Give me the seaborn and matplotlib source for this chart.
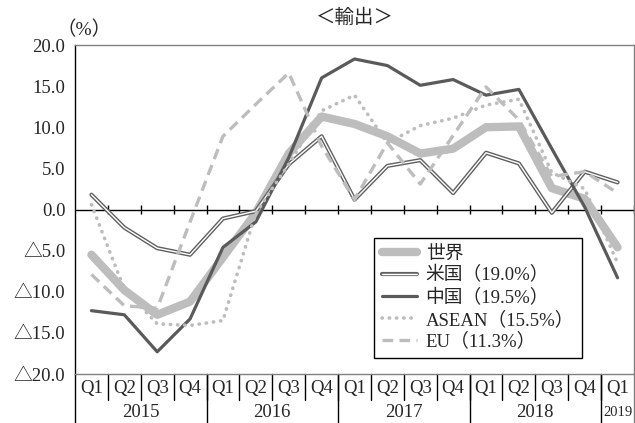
import matplotlib
matplotlib.use("Agg")
import matplotlib.pyplot as plt
import matplotlib.patheffects as pe
import matplotlib.transforms as mtransforms
import numpy as np
import pandas as pd
import seaborn as sns

# Quarterly export growth (year-on-year, %)
quarters = ["Q1", "Q2", "Q3", "Q4"] * 4 + ["Q1"]
years = ["2015", "2016", "2017", "2018", "2019"]
year_sizes = [4, 4, 4, 4, 1]

world = [-5.5, -9.8, -12.8, -11.2, -5.8, -0.4, 6.8, 11.3, 10.4, 8.9, 6.8, 7.4, 10.0, 10.1, 2.6, 1.3, -4.6]
us = [1.8, -2.2, -4.7, -5.5, -1.1, -0.2, 5.5, 8.9, 1.2, 5.3, 6.0, 2.0, 6.9, 5.6, -0.4, 4.6, 3.3]
china = [-12.3, -12.8, -17.3, -13.3, -4.6, -1.5, 6.3, 16.0, 18.3, 17.5, 15.1, 15.8, 13.9, 14.6, 7.4, 0.3, -8.3]
asean = [0.6, -9.7, -13.9, -14.1, -13.5, -0.4, 5.5, 12.0, 13.9, 8.1, 10.2, 11.1, 12.7, 13.4, 4.5, 2.5, -6.5]
eu = [-7.9, -11.7, -12.0, -1.5, 8.9, 12.8, 16.6, 7.7, 1.2, 8.1, 3.1, 9.0, 14.9, 10.9, 4.0, 4.6, 2.0]

labels = ["世界", "米国（19.0%）", "中国（19.5%）", "ASEAN（15.5%）", "EU（11.3%）"]
yticks = [20, 15, 10, 5, 0, -5, -10, -15, -20]
ytick_labels = ["20.0", "15.0", "10.0", "5.0", "0.0", "△5.0", "△10.0", "△15.0", "△20.0"]

sns.set_style("white")
plt.rcParams["font.family"] = ["Liberation Serif", "Noto Sans CJK JP", "DejaVu Sans"]
plt.rcParams["font.size"] = 13

df = pd.DataFrame({"idx": np.arange(len(quarters)), "world": world, "us": us,
                   "china": china, "asean": asean, "eu": eu})

fig = plt.figure(figsize=(6.35, 4.23), dpi=100)
ax = fig.add_axes([75 / 635, 1 - 374 / 423, 559 / 635, 329 / 423])

light = "#bdbdbd"
dark = "#5a5a5a"

sns.lineplot(data=df, x="idx", y="world", ax=ax, color=light, lw=6,
             solid_capstyle="round", label=labels[0], zorder=3)
sns.lineplot(data=df, x="idx", y="us", ax=ax, color="white", lw=1.0,
             label=labels[1], zorder=4,
             path_effects=[pe.Stroke(linewidth=3.0, foreground="#606060"), pe.Normal()])
sns.lineplot(data=df, x="idx", y="china", ax=ax, color=dark, lw=2.3,
             label=labels[2], zorder=5)
sns.lineplot(data=df, x="idx", y="asean", ax=ax, color=light, lw=2.6,
             linestyle=(0, (0.1, 1.9)), dash_capstyle="round",
             label=labels[3], zorder=6)
sns.lineplot(data=df, x="idx", y="eu", ax=ax, color=light, lw=2.4,
             linestyle=(0, (3.2, 1.9)), label=labels[4], zorder=6)

n = len(quarters)
ax.set_xlim(-0.5, n - 0.5)
ax.set_ylim(-20, 20)
ax.set_xlabel("")
ax.set_ylabel("")

# Frame
for side in ["top", "right", "bottom"]:
    ax.spines[side].set_color("#808080")
    ax.spines[side].set_linewidth(1.0)
ax.spines["left"].set_color("black")
ax.spines["left"].set_linewidth(1.0)

# Value axis
ax.set_yticks(yticks)
ax.set_yticklabels(ytick_labels, fontsize=13.5)
ax.tick_params(axis="y", direction="inout", length=8, width=1, color="black", pad=3)
ax.set_xticks([])

# Zero line with category ticks
ax.axhline(0, color="black", lw=1.0, zorder=2)
bounds = np.arange(0.5, n - 0.5, 1.0)
ax.vlines(bounds, -0.6, 0.6, color="black", lw=1.0, zorder=2)
ax.vlines([n - 0.5], -0.6, 0.6, color="black", lw=1.0, zorder=2, clip_on=False)

# Category labels below the plot
trans = mtransforms.blended_transform_factory(ax.transData, ax.transAxes)
for i, q in enumerate(quarters):
    ax.text(i, -0.045, q, transform=trans, ha="center", va="center", fontsize=13.5)
for b in bounds:
    ax.plot([b, b], [0, -0.08], transform=trans, color="black", lw=1.0, clip_on=False)
start = 0
for y, size in zip(years, year_sizes):
    left = start - 0.5
    right = start + size - 0.5
    ax.plot([left, left], [0, -0.16], transform=trans, color="black", lw=1.0, clip_on=False)
    ax.text((left + right) / 2, -0.118, y, transform=trans, ha="center", va="center",
            fontsize=13.5 if size > 1 else 10.5)
    start += size
ax.plot([n - 0.5, n - 0.5], [0, -0.16], transform=trans, color="#808080", lw=1.0, clip_on=False)

# Legend
leg = ax.legend(loc="upper left", bbox_to_anchor=(0.535, 0.414), fontsize=13.5,
                frameon=True, fancybox=False, edgecolor="black", framealpha=1,
                handlelength=1.9, handletextpad=0.45, labelspacing=0.22,
                borderpad=0.4, borderaxespad=0)
leg.get_frame().set_linewidth(1.0)

# Titles
fig.text(354.5 / 635, 1 - 18 / 423, "＜輸出＞", ha="center", va="center", fontsize=14)
fig.text(84 / 635, 1 - 30 / 423, "（%）", ha="center", va="center", fontsize=14)

fig.savefig("out.png", dpi=100)
